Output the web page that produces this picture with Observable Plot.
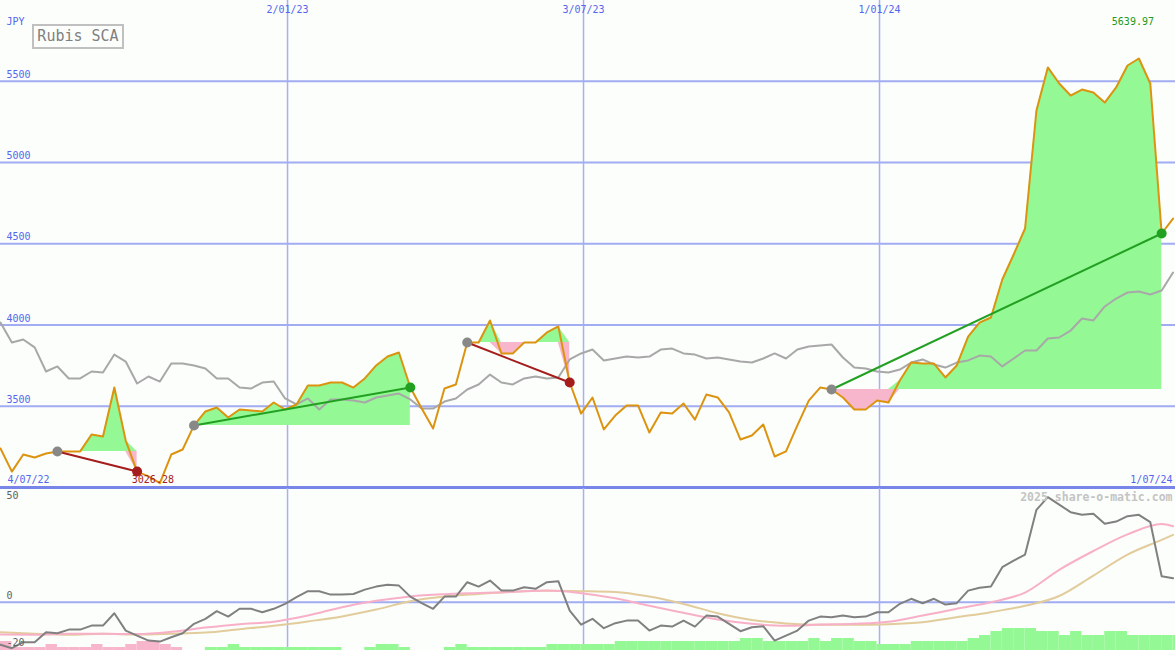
<!DOCTYPE html>
<html><head><meta charset="utf-8">
<script src="https://cdn.jsdelivr.net/npm/d3@7"></script>
<script src="https://cdn.jsdelivr.net/npm/@observablehq/plot@0.6"></script>
<style>
html,body{margin:0;padding:0;background:#fbfefb;overflow:hidden;}
#wrap{position:relative;width:1175px;height:650px;}
#title{position:absolute;left:32px;top:24px;width:88px;height:21px;border:2px solid #c0c0c0;font:15px "DejaVu Sans Mono",monospace;color:#808080;line-height:21px;text-align:center;background:#fbfefb;}
svg{display:block}
</style></head><body><div id="wrap"><div id="chart"></div><div id="title">Rubis SCA</div></div>
<script>
// ---------- DATA ----------
const title = "Rubis SCA";
const currency = "JPY";
const firstWeek = "2022-07-09T12:00:00Z";
const xDomain = ["2022-07-09T12:00:00Z", "2024-07-01T00:00:00Z"];
const tickDates = ["2023-01-02", "2023-07-03", "2024-01-01"];
const tickLabels = ["2/01/23", "3/07/23", "1/01/24"];
const edgeLabels = ["4/07/22", "1/07/24"];
const yTicks = [3500, 4000, 4500, 5000, 5500];
const yTickLabels = ["3500", "4000", "4500", "5000", "5500"];
const lowerTicks = [50, 0, -20];
const lowerTickLabels = ["50", "0", "-20"];
const watermark = "2025 share-o-matic.com";

// weekly close (JPY)
const price = [3240,3098,3203,3185,3209,3222,3222,3222,3326,3314,
 3615,3289,3098,3068,3026.28,3203,3234,3382,3468,3492,
 3431,3480,3474,3468,3523,3480,3511,3628,3628,3646,
 3646,3615,3671,3751,3806,3831,3615,3486,3363,3609,
 3634,3892,3892,4028,3825,3825,3892,3892,3954,3991,
 3646,3455,3554,3357,3443,3505,3505,3338,3462,3455,
 3517,3418,3572,3554,3462,3295,3320,3388,3191,3222,
 3382,3535,3615,3603,3554,3480,3480,3535,3523,3658,
 3769,3763,3763,3677,3751,3929,4015,4046,4280,4434,
 4594,5320,5585,5486,5412,5449,5431,5369,5462,5597,
 5639.97,5486,4563,4655];
// comparison index (scaled)
const indexLine = [4015,3892,3911,3862,3714,3745,3671,3671,3714,3708,
 3818,3775,3640,3683,3652,3763,3763,3751,3732,3671,
 3671,3615,3609,3646,3652,3548,3511,3548,3480,3542,
 3542,3535,3523,3554,3566,3578,3542,3486,3486,3529,
 3548,3603,3634,3695,3646,3634,3671,3683,3671,3677,
 3788,3825,3849,3782,3794,3806,3800,3806,3849,3855,
 3825,3818,3794,3800,3788,3775,3769,3794,3825,3794,
 3849,3868,3874,3880,3800,3738,3732,3714,3708,3726,
 3769,3788,3757,3738,3769,3782,3812,3806,3745,3794,
 3843,3843,3917,3923,3966,4040,4028,4114,4163,4200,
 4206,4188,4212,4323];
// momentum (lower panel)
const momentum = [-21.3,-23,-20,-20,-15,-15.5,-13.7,-13.7,-11.7,-11.7,
 -5.5,-14.2,-16.7,-19.2,-19.7,-17.5,-15.5,-10.8,-8.3,-4.5,
 -7.2,-3.3,-3.3,-5,-3.3,-0.8,2.5,5.5,5.5,3.8,
 3.8,4.1,6.3,7.8,8.7,8.3,2.8,-0.5,-3.3,2.8,
 2.8,10,7.8,10.8,5.8,5.8,7.5,6.7,10,10.5,
 -4.2,-11.2,-8.3,-13,-10.5,-9.2,-9.2,-14.2,-11.7,-12.2,
 -9.2,-12.2,-6.7,-7.2,-10.8,-14.5,-12.5,-12,-19.2,-16.7,
 -14.2,-9.2,-7.2,-7.5,-6.7,-7.5,-7.2,-5,-5,-0.8,
 1.7,-0.5,1.7,-1.2,-0.5,5.8,7.2,7.8,17.5,20.8,
 23.8,46.2,52.5,48.8,45,43.7,44.2,39.2,40.3,43,
 43.7,40,13,12];
// smoothed averages, read every third week
const maWeeks = [0,3,6,9,12,15,18,21,24,27,30,33,36,39,42,45,48,51,54,57,60,63,66,69,72,75,78,81,84,87,90,93,96,99,102,103];
const pinkAvg = [-16.2,-16.3,-15.8,-15.8,-15.9,-14.8,-12.7,-11,-9.8,-6.7,-2.5,0.7,2.9,4,4.6,5.2,5.8,4.5,2,-1.8,-5.3,-8.7,-10.8,-11.8,-11.2,-10.8,-9.8,-6.7,-3.3,0,4.8,16.2,25.6,33.9,39.1,38];
const tanAvg = [-15,-15.8,-16.3,-15.8,-16.2,-15.8,-15.2,-13.5,-11.8,-9.6,-7.1,-3.7,0.5,2.8,4.1,5.2,5.7,5.5,5.1,2.8,-0.9,-5.5,-8.9,-10.6,-11.3,-11.3,-11,-10,-7.5,-5,-1.8,3.1,13.3,23.8,31.2,33.7];
// signal blocks at bottom of lower panel (negative = pink, positive = green)
const signal = [-4.5,-1.5,-1.5,-1.5,-3,-1.5,-1.5,-1.5,-3,-1.5,
 -1.5,-3,-4.5,-4.5,-3,-1.5,0,0,1.5,1.5,
 3,1.5,1.5,1.5,1.5,1.5,1.5,1.5,1.5,1.5,
 0,0,1.5,3,3,1.5,0,0,0,1.5,
 3,1.5,1.5,1.5,1.5,1.5,1.5,1.5,3,3,
 3,3,3,3,4.5,4.5,4.5,4.5,4.5,4.5,
 4.5,4.5,4.5,4.5,4.5,6,6,4.5,4.5,4.5,
 4.5,6,4.5,6,6,4.5,4.5,3,3,3,
 4.5,4.5,4.5,4.5,4.5,6,7.5,9.5,11,11,
 11,9.5,9.5,7.5,9.5,7.5,7.5,9.5,9.5,7.5,
 7.5,7.5,7.5,7.5];
// trend segments (week indices)
const trendStart = [5, 17, 41, 73];
const trendEnd = [12, 36, 50, 102];

// ---------- BUILD ----------
const DAY = 864e5;
const t0 = new Date(firstWeek).getTime();
const weekDate = i => new Date(t0 + i * 7 * DAY);
const rows = price.map((p, i) => ({date: weekDate(i), next: weekDate(i + 1), price: p, index: indexLine[i], mom: momentum[i], sig: signal[i]}));
const maRows = maWeeks.map((w, k) => ({date: weekDate(w), pink: pinkAvg[k], tan: tanAvg[k]}));
const trends = trendStart.map((s, k) => {
  const e = trendEnd[k];
  return {k, s, e, d1: weekDate(s), d2: weekDate(e), v1: price[s], v2: price[e], up: price[e] >= price[s]};
});
const fillRows = [];
trends.forEach(t => { for (let i = t.s; i <= t.e; i++) fillRows.push({trend: t.k, date: weekDate(i), ref: t.v1, price: price[i]}); });
const xd = xDomain.map(d => new Date(d));
const td = tickDates.map(d => new Date(d + "T00:00:00Z"));
let maxI = 0, minI = 0;
price.forEach((p, i) => { if (p > price[maxI]) maxI = i; if (p < price[minI]) minI = i; });

const BLUE = "#5566ee";
const GRIDV = "#a8b0f2";
const GRIDH = "#a2acf2";
const GREEN = "#94f894", PINK = "#f8b6cc";
const FONT = "DejaVu Sans Mono, monospace";
const LOWMIN = -24.15;
const T = {fontSize: 10, fontFamily: FONT, lineAnchor: "middle"};

const main = Plot.plot({
  width: 1175, height: 488, margin: 0,
  style: {background: "#fbfefb", fontFamily: FONT, overflow: "visible"},
  x: {type: "utc", domain: xd, range: [0, 1175], axis: null},
  y: {domain: [3000, 5997], range: [487, 0], axis: null},
  marks: [
    Plot.ruleX(td, {x: d => d, stroke: GRIDV, strokeWidth: 1.5}),
    Plot.ruleY(yTicks, {y: d => d, stroke: GRIDH, strokeWidth: 2}),
    Plot.areaY(fillRows, {x: "date", y1: "ref", y2: d => Math.max(d.price, d.ref), z: "trend", fill: GREEN}),
    Plot.areaY(fillRows, {x: "date", y1: "ref", y2: d => Math.min(d.price, d.ref), z: "trend", fill: PINK}),
    Plot.line(rows, {x: "date", y: "index", stroke: "#a8a8a8", strokeWidth: 2}),
    Plot.line(rows, {x: "date", y: "price", stroke: "#dc9410", strokeWidth: 2}),
    Plot.link(trends.filter(t => t.up), {x1: "d1", y1: "v1", x2: "d2", y2: "v2", stroke: "#22a022", strokeWidth: 2}),
    Plot.link(trends.filter(t => !t.up), {x1: "d1", y1: "v1", x2: "d2", y2: "v2", stroke: "#a51c1c", strokeWidth: 2}),
    Plot.dot(trends, {x: "d1", y: "v1", r: 5, fill: "#888888"}),
    Plot.dot(trends.filter(t => t.up), {x: "d2", y: "v2", r: 5, fill: "#22a022"}),
    Plot.dot(trends.filter(t => !t.up), {x: "d2", y: "v2", r: 5, fill: "#a51c1c"}),
    Plot.ruleY([3000], {y: d => d, stroke: "#7886ea", strokeWidth: 3}),
    Plot.text(td, {...T, x: d => d, text: (d, i) => tickLabels[i], frameAnchor: "top", dy: 9, fill: BLUE}),
    Plot.text(yTicks, {...T, y: d => d, text: (d, i) => yTickLabels[i], frameAnchor: "left", textAnchor: "start", dx: 6, dy: -6.5, fill: BLUE}),
    Plot.text([currency], {...T, text: d => d, frameAnchor: "top-left", textAnchor: "start", dx: 6, dy: 21, fill: BLUE}),
    Plot.text([edgeLabels[0]], {...T, text: d => d, frameAnchor: "bottom-left", textAnchor: "start", dx: 7, dy: -9, fill: BLUE}),
    Plot.text([edgeLabels[1]], {...T, text: d => d, frameAnchor: "bottom-right", textAnchor: "end", dx: -3, dy: -9, fill: BLUE}),
    Plot.text([maxI], {...T, x: i => weekDate(i), text: i => price[i].toFixed(2), frameAnchor: "top", dy: 21, dx: -6, fill: "#209a20"}),
    Plot.text([minI], {...T, x: i => weekDate(i), text: i => price[i].toFixed(2), frameAnchor: "bottom", dy: -9, dx: -7, fill: "#a51c1c"})
  ]
});

const lower = Plot.plot({
  width: 1175, height: 162, margin: 0,
  style: {background: "#fbfefb", fontFamily: FONT, overflow: "hidden"},
  x: {type: "utc", domain: xd, range: [0, 1175], axis: null},
  y: {domain: [LOWMIN, 56.85], range: [162, 0], axis: null},
  marks: [
    Plot.ruleX(td, {x: d => d, stroke: GRIDV, strokeWidth: 1.5}),
    Plot.ruleY([0], {y: d => d, stroke: GRIDH, strokeWidth: 2}),
    Plot.rect(rows.filter(d => d.sig !== 0), {x1: "date", x2: "next", y1: () => LOWMIN, y2: d => LOWMIN + Math.abs(d.sig), fill: d => d.sig < 0 ? PINK : GREEN}),
    Plot.line(maRows, {x: "date", y: "tan", stroke: "#e2cc9c", strokeWidth: 2, curve: "monotone-x"}),
    Plot.line(maRows, {x: "date", y: "pink", stroke: "#f8b0c8", strokeWidth: 2, curve: "monotone-x"}),
    Plot.line(rows, {x: "date", y: "mom", stroke: "#808080", strokeWidth: 2}),
    Plot.text(lowerTicks.slice(0, 2), {...T, y: d => d, text: (d, i) => lowerTickLabels[i], frameAnchor: "left", textAnchor: "start", dx: 6, dy: -6, fill: "#606060"}),
    Plot.text(lowerTicks.slice(2), {...T, y: d => d, text: (d, i) => lowerTickLabels[2 + i], frameAnchor: "left", textAnchor: "start", dx: 6, dy: 1, fill: "#606060"}),
    Plot.text([watermark], {...T, text: d => d, frameAnchor: "top-right", textAnchor: "end", dx: -3, dy: 9, fill: "#c4c4c4", fontSize: 11.5, fontWeight: "bold"})
  ]
});

const chart = document.getElementById("chart");
chart.appendChild(main);
chart.appendChild(lower);
</script></body></html>
